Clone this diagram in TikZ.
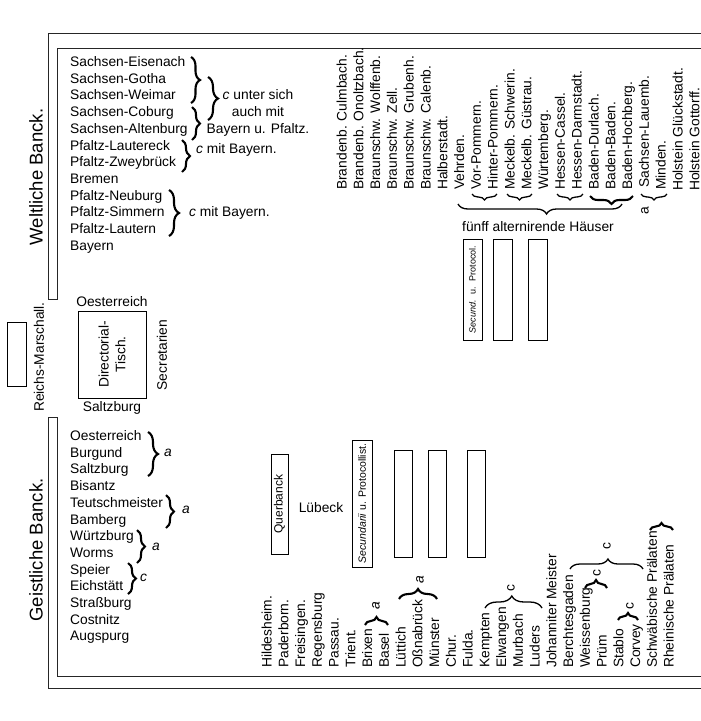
\documentclass[tikz,border=0pt]{standalone}
\usepackage{fontspec}
\setmainfont{Liberation Sans}
\usetikzlibrary{decorations.pathreplacing}

\newcommand{\normaltxt}{\fontsize{13.8}{16.7}\selectfont}
\newcommand{\bigtxt}{\fontsize{18.5}{20}\selectfont}
\newcommand{\protxt}{\fontsize{9}{10}\selectfont}

\begin{document}
\begin{tikzpicture}[x=1pt, y=-1pt, font=\normaltxt,
    nameStyle/.style={anchor=west, inner sep=0pt, text height=9.5pt, text depth=2.5pt},
    colStyle/.style={nameStyle, rotate=90},
    benchStyle/.style={rectangle, draw, line width=0.8pt, inner sep=0pt},
    braceStyle/.style={decorate, decoration={brace, amplitude=#1}, line width=1.3pt},
    boldBrace/.style={braceStyle=#1, line width=2.1pt},
    wallStyle/.style={line width=0.9pt, black!85}]
                    \useasboundingbox (0,0) rectangle (701,721);

                    \draw[wallStyle] (701,33) -- (48,33) -- (48,299) -- (57,299) -- (57,48) -- (701,48);
                    \draw[wallStyle] (701,688) -- (48,688) -- (48,417) -- (57,417) -- (57,676) -- (701,676);

                    \node[font=\bigtxt, rotate=90] (weltlich)  at (36,177) {Weltliche Banck.};
                    \node[font=\bigtxt, rotate=90] (geistlich) at (36,550) {Geistliche Banck.};

                    \node[benchStyle, minimum width=19, minimum height=64] (marschall) at (16.5,354) {};
                    \node[rotate=90] (marschall_txt) at (39,357) {Reichs-Marschall.};

                    \node[benchStyle, rotate=90, minimum width=87, minimum height=68, align=center] (tisch) at (112,354.5) {Directorial-\\Tisch.};
                    \node (tisch_n) at (112,302) {Oesterreich};
                    \node (tisch_s) at (112,408) {Saltzburg};
                    \node[rotate=90] (secr) at (162,355) {Secretarien};

                    \node[nameStyle] (wl_0)  at (70, 63.0) {Sachsen-Eisenach};
                    \node[nameStyle] (wl_1)  at (70, 79.7) {Sachsen-Gotha};
                    \node[nameStyle] (wl_2)  at (70, 96.4) {Sachsen-Weimar};
                    \node[nameStyle] (wl_3)  at (70,113.1) {Sachsen-Coburg};
                    \node[nameStyle] (wl_4)  at (70,129.8) {Sachsen-Altenburg};
                    \node[nameStyle] (wl_5)  at (70,146.5) {Pfaltz-Lautereck};
                    \node[nameStyle] (wl_6)  at (70,163.2) {Pfaltz-Zweybrück};
                    \node[nameStyle] (wl_7)  at (70,179.9) {Bremen};
                    \node[nameStyle] (wl_8)  at (70,196.6) {Pfaltz-Neuburg};
                    \node[nameStyle] (wl_9)  at (70,213.3) {Pfaltz-Simmern};
                    \node[nameStyle] (wl_10) at (70,230.0) {Pfaltz-Lautern};
                    \node[nameStyle] (wl_11) at (70,246.7) {Bayern};

                    \draw[boldBrace=9pt]  (191,57) -- (191,103);
                    \draw[boldBrace=8pt]  (192,107) -- (192,140);
                    \draw[boldBrace=10pt] (208,77) -- (208,120);
                    \node[align=center] (wl_note1) at (258,113) {\textit{c} unter sich\\auch mit\\Bayern u. Pfaltz.};
                    \draw[boldBrace=8pt]  (182,140) -- (182,172);
                    \node[nameStyle] (wl_note2) at (196,150) {\textit{c} mit Bayern.};
                    \draw[boldBrace=10pt] (169,190) -- (169,236);
                    \node[nameStyle] (wl_note3) at (189,213) {\textit{c} mit Bayern.};

                    \node[colStyle] (wc_0)  at (343.0,190) {Brandenb. Culmbach.};
                    \node[colStyle] (wc_1)  at (359.8,190) {Brandenb. Onoltzbach.};
                    \node[colStyle] (wc_2)  at (376.6,190) {Braunschw. Wolffenb.};
                    \node[colStyle] (wc_3)  at (393.4,190) {Braunschw. Zell.};
                    \node[colStyle] (wc_4)  at (410.2,190) {Braunschw. Grubenh.};
                    \node[colStyle] (wc_5)  at (427.0,190) {Braunschw. Calenb.};
                    \node[colStyle] (wc_6)  at (443.8,190) {Halberstadt.};
                    \node[colStyle] (wc_7)  at (460.6,190) {Vehrden.};
                    \node[colStyle] (wc_8)  at (477.4,190) {Vor-Pommern.};
                    \node[colStyle] (wc_9)  at (494.2,190) {Hinter-Pommern.};
                    \node[colStyle] (wc_10) at (511.0,190) {Meckelb. Schwerin.};
                    \node[colStyle] (wc_11) at (527.8,190) {Meckelb. Güstrau.};
                    \node[colStyle] (wc_12) at (544.6,190) {Würtemberg.};
                    \node[colStyle] (wc_13) at (561.4,190) {Hessen-Cassel.};
                    \node[colStyle] (wc_14) at (578.2,190) {Hessen-Darmstadt.};
                    \node[colStyle] (wc_15) at (595.0,190) {Baden-Durlach.};
                    \node[colStyle] (wc_16) at (611.8,190) {Baden-Baden.};
                    \node[colStyle] (wc_17) at (628.6,190) {Baden-Hochberg.};
                    \node[colStyle] (wc_18) at (645.4,188) {Sachsen-Lauemb.};
                    \node[colStyle] (wc_19) at (662.2,190) {Minden.};
                    \node[colStyle] (wc_20) at (679.0,191) {Holstein Glückstadt.};
                    \node[colStyle] (wc_21) at (695.8,191) {Holstein Gottorff.};

                    \draw[braceStyle=6pt] (497,194) -- (472,194);
                    \draw[braceStyle=6pt] (532,194) -- (507,194);
                    \draw[braceStyle=6pt] (583,194) -- (557,194);
                    \draw[boldBrace=8pt]  (633,196) -- (590,196);
                    \draw[braceStyle=6pt] (667,194) -- (641,194);
                    \node[rotate=90] (wc_note) at (645,211) {a};
                    \draw[braceStyle=10pt, decoration={aspect=0.46}] (622,204) -- (458,204);
                    \node (haeuser) at (538,227) {fünff alternirende Häuser};

                    \node[benchStyle, rotate=90, minimum width=101, minimum height=19, font=\protxt] (w_prot) at (472.5,289.5) {\textit{Secund.}~ u.~ Protocol.};
                    \node[benchStyle, minimum width=19, minimum height=101] (w_b1) at (502.5,289.5) {};
                    \node[benchStyle, minimum width=19, minimum height=101] (w_b2) at (538.0,289.5) {};

                    \node[nameStyle] (gl_0)  at (70,437.0) {Oesterreich};
                    \node[nameStyle] (gl_1)  at (70,453.7) {Burgund};
                    \node[nameStyle] (gl_2)  at (70,470.4) {Saltzburg};
                    \node[nameStyle] (gl_3)  at (70,487.1) {Bisantz};
                    \node[nameStyle] (gl_4)  at (70,503.8) {Teutschmeister};
                    \node[nameStyle] (gl_5)  at (70,520.5) {Bamberg};
                    \node[nameStyle] (gl_6)  at (70,537.2) {Würtzburg};
                    \node[nameStyle] (gl_7)  at (70,553.9) {Worms};
                    \node[nameStyle] (gl_8)  at (70,570.6) {Speier};
                    \node[nameStyle] (gl_9)  at (70,587.3) {Eichstätt};
                    \node[nameStyle] (gl_10) at (70,604.0) {Straßburg};
                    \node[nameStyle] (gl_11) at (70,620.7) {Costnitz};
                    \node[nameStyle] (gl_12) at (70,637.4) {Augspurg};

                    \draw[boldBrace=10pt] (148,432) -- (148,476);
                    \node[nameStyle] (gl_note1) at (164,453) {\textit{a}};
                    \draw[boldBrace=8pt]  (166,495) -- (166,528);
                    \node[nameStyle] (gl_note2) at (182,510) {\textit{a}};
                    \draw[boldBrace=8pt]  (137,530) -- (137,563);
                    \node[nameStyle] (gl_note3) at (152,547) {\textit{a}};
                    \draw[boldBrace=8pt]  (128,563) -- (128,594);
                    \node[nameStyle] (gl_note4) at (140,578) {\textit{c}};

                    \node[benchStyle, rotate=90, minimum width=100, minimum height=17, font=\fontsize{12}{14}\selectfont] (querbanck) at (279.5,504) {Querbanck};
                    \node (luebeck) at (321,508) {Lübeck};
                    \node[benchStyle, rotate=90, minimum width=127, minimum height=20, font=\fontsize{10.5}{12}\selectfont] (g_prot) at (362,503.5) {\textit{Secundarii} u. Protocollist.};
                    \node[benchStyle, minimum width=18, minimum height=107] (g_b1) at (403.0,503.5) {};
                    \node[benchStyle, minimum width=18, minimum height=107] (g_b2) at (437.5,503.5) {};
                    \node[benchStyle, minimum width=18, minimum height=107] (g_b3) at (476.0,503.5) {};

                    \node[colStyle] (gc_0)  at (268.00,668) {Hildesheim.};
                    \node[colStyle] (gc_1)  at (284.75,668) {Paderborn.};
                    \node[colStyle] (gc_2)  at (301.50,668) {Freisingen.};
                    \node[colStyle] (gc_3)  at (318.25,668) {Regensburg};
                    \node[colStyle] (gc_4)  at (335.00,668) {Passau.};
                    \node[colStyle] (gc_5)  at (351.75,668) {Trient.};
                    \node[colStyle] (gc_6)  at (368.50,668) {Brixen};
                    \node[colStyle] (gc_7)  at (385.25,668) {Basel};
                    \node[colStyle] (gc_8)  at (402.00,668) {Lüttich};
                    \node[colStyle] (gc_9)  at (418.75,668) {Oßnabrück};
                    \node[colStyle] (gc_10) at (435.50,668) {Münster};
                    \node[colStyle] (gc_11) at (452.25,668) {Chur.};
                    \node[colStyle] (gc_12) at (469.00,668) {Fulda.};
                    \node[colStyle] (gc_13) at (485.75,668) {Kempten};
                    \node[colStyle] (gc_14) at (502.50,668) {Elwangen};
                    \node[colStyle] (gc_15) at (519.25,668) {Murbach};
                    \node[colStyle] (gc_16) at (536.00,668) {Luders};
                    \node[colStyle] (gc_17) at (552.75,668) {Johanniter Meister};
                    \node[colStyle] (gc_18) at (569.50,668) {Berchtesgaden};
                    \node[colStyle] (gc_19) at (586.25,668) {Weissenburg};
                    \node[colStyle] (gc_20) at (603.00,668) {Prüm};
                    \node[colStyle] (gc_21) at (619.75,668) {Stablo};
                    \node[colStyle] (gc_22) at (636.50,668) {Corvey};
                    \node[colStyle] (gc_23) at (653.25,668) {Schwäbische Prälaten};
                    \node[colStyle] (gc_24) at (670.00,668) {Rheinische Prälaten};

                    \draw[boldBrace=8pt]  (365,625) -- (388,625);
                    \node[rotate=90] (gc_note1) at (376,606) {\textit{a}};
                    \draw[boldBrace=10pt] (399,599) -- (437,599);
                    \node[rotate=90] (gc_note2) at (420,580) {\textit{a}};
                    \draw[braceStyle=12pt, decoration={aspect=0.47}] (485,608) -- (542,608);
                    \node[rotate=90] (gc_note3) at (511,588) {c};
                    \draw[braceStyle=10pt, decoration={aspect=0.52}] (570,569) -- (643,569);
                    \node[rotate=90] (gc_note4) at (607,546) {c};
                    \draw[boldBrace=8pt]  (585,588) -- (607,588);
                    \node[rotate=90] (gc_note5) at (597,573) {c};
                    \draw[boldBrace=7pt]  (618,620) -- (638,620);
                    \node[rotate=90] (gc_note6) at (630,606) {c};
                    \draw[boldBrace=7pt]  (650,530) -- (673,530);
                \end{tikzpicture}
\end{document}
